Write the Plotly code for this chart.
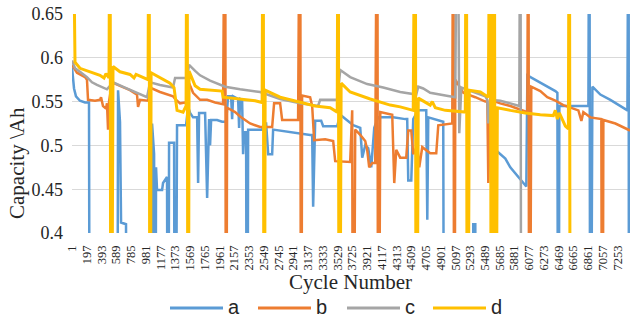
import plotly.graph_objects as go

# ---- data (cycle number, capacity in Ah) ----
cyc_a = [1, 28, 54, 107, 174, 227, 240, 600, 613, 639,
         653, 719, 733, 1052, 1065, 1078, 1092, 1105, 1118, 1131,
         1198, 1211, 1264, 1278, 1291, 1358, 1371, 1397, 1517, 1544,
         1570, 1610, 1664, 1677, 1690, 1770, 1797, 1823, 1836, 1850,
         1929, 1996, 2049, 2076, 2116, 2129, 2142, 2209, 2222, 2235,
         2262, 2275, 2289, 2315, 2328, 2342, 2528, 2555, 2581, 2608,
         2661, 2674, 2900, 3166, 3193, 3206, 3233, 3313, 3339, 3526,
         3566, 3738, 3832, 3858, 3898, 3938, 3978, 4018, 4071, 4270,
         4430, 4456, 4470, 4510, 4536, 4603, 4709, 4723, 4736, 4935,
         4949, 5321, 5334, 5361, 5374, 5614, 5627, 5760, 5826, 5893,
         5960, 6039, 6053, 6159, 6292, 6425, 6452, 6465, 6478, 6864,
         6877, 6890, 6917, 7023, 7156, 7289, 7383, 7398, 7404]
val_a = [0.589, 0.565, 0.556, 0.551, 0.549, 0.549, 0.0, 0.0, 0.563, 0.527,
         0.412, 0.41, 0.0, 0.0, 0.525, 0.51, 0.49, 0.0, 0.475, 0.449,
         0.449, 0.457, 0.464, 0.0, 0.503, 0.503, 0.0, 0.523, 0.523, 0.544,
         0.537, 0.532, 0.532, 0.457, 0.537, 0.537, 0.44, 0.53, 0.50, 0.529,
         0.529, 0.527, 0.527, 0.556, 0.556, 0.53, 0.556, 0.553, 0.52, 0.553,
         0.552, 0.49, 0.515, 0.515, 0.0, 0.518, 0.518, 0.525, 0.525, 0.49,
         0.49, 0.518, 0.515, 0.512, 0.512, 0.43, 0.528, 0.528, 0.522, 0.522,
         0.535, 0.523, 0.52, 0.486, 0.50, 0.497, 0.475, 0.52, 0.532, 0.532,
         0.53, 0.53, 0.46, 0.46, 0.53, 0.54, 0.54, 0.415, 0.532, 0.527,
         0.0, 0.0, 0.41, 0.41, 0.0, 0.0, 0.495, 0.485, 0.475, 0.468,
         0.462, 0.453, 0.58, 0.575, 0.568, 0.562, 0.56, 0.0, 0.545, 0.545,
         0.9, 0.0, 0.567, 0.558, 0.552, 0.545, 0.54, 0.9, 0.0]

cyc_b = [1, 67, 174, 200, 214, 307, 373, 387, 413, 453,
         466, 480, 493, 533, 639, 772, 865, 879, 905, 1012,
         1038, 1171, 1344, 1371, 1437, 1504, 1530, 1557, 1610, 1664,
         1703, 1797, 1903, 2009, 2036, 2049, 2062, 2169, 2235, 2368,
         2501, 2661, 2687, 2767, 2794, 3006, 3033, 3046, 3059, 3166,
         3193, 3219, 3366, 3472, 3499, 3698, 3725, 3738, 3765, 3832,
         3898, 3924, 3951, 3991, 4031, 4058, 4071, 4098, 4230, 4257,
         4284, 4310, 4363, 4443, 4470, 4510, 4536, 4589, 4616, 4656,
         4762, 4842, 4869, 5055, 5069, 5082, 5095, 5202, 5361, 5494,
         5521, 5534, 5561, 5693, 5827, 5960, 6053, 6066, 6079, 6105,
         6225, 6318, 6425, 6531, 6624, 6731, 6771, 6797, 6890, 7036,
         7050, 7063, 7223, 7356, 7417]
val_b = [0.592, 0.583, 0.578, 0.575, 0.552, 0.551, 0.552, 0.555, 0.545, 0.542,
         0.548, 0.518, 0.55, 0.572, 0.568, 0.563, 0.558, 0.544, 0.552, 0.551,
         0.566, 0.561, 0.556, 0.553, 0.548, 0.549, 0.548, 0.571, 0.56, 0.555,
         0.552, 0.552, 0.549, 0.547, 0.9, 0.0, 0.543, 0.538, 0.533, 0.525,
         0.521, 0.521, 0.548, 0.548, 0.529, 0.529, 0.9, 0.0, 0.557, 0.555,
         0.545, 0.506, 0.507, 0.505, 0.482, 0.481, 0.54, 0.0, 0.518, 0.512,
         0.505, 0.495, 0.475, 0.48, 0.48, 0.9, 0.0, 0.538, 0.535, 0.535,
         0.457, 0.495, 0.486, 0.486, 0.517, 0.517, 0.49, 0.50, 0.475, 0.498,
         0.491, 0.491, 0.523, 0.525, 0.9, 0.0, 0.575, 0.56, 0.555, 0.55,
         0.55, 0.457, 0.552, 0.548, 0.545, 0.541, 0.538, 0.9, 0.0, 0.567,
         0.562, 0.555, 0.551, 0.546, 0.543, 0.54, 0.528, 0.538, 0.532, 0.530,
         0.0, 0.529, 0.525, 0.52, 0.517]

cyc_c = [1, 41, 107, 200, 267, 333, 466, 546, 705, 839,
         998, 1038, 1171, 1344, 1371, 1530, 1557, 1637, 1703, 1836,
         2036, 2235, 2501, 2767, 3033, 3272, 3299, 3526, 3566, 3698,
         3924, 4137, 4363, 4576, 4603, 4669, 4762, 4962, 5095, 5122,
         5148, 5175, 5295, 5494, 5521, 5534, 5561, 5693, 5827, 5946,
         5960, 5973]
val_c = [0.597, 0.588, 0.584, 0.578, 0.572, 0.569, 0.564, 0.572, 0.566, 0.561,
         0.555, 0.572, 0.569, 0.566, 0.577, 0.577, 0.592, 0.585, 0.580, 0.574,
         0.567, 0.564, 0.561, 0.553, 0.548, 0.545, 0.552, 0.552, 0.586, 0.578,
         0.570, 0.566, 0.561, 0.558, 0.567, 0.565, 0.560, 0.557, 0.555, 0.9,
         0.514, 0.566, 0.562, 0.556, 0.552, 0.525, 0.552, 0.551, 0.548, 0.545,
         0.9, 0.0]

cyc_d = [1, 41, 107, 240, 373, 426, 453, 493, 506, 519,
         546, 639, 772, 825, 852, 905, 1012, 1025, 1038, 1052,
         1171, 1304, 1357, 1397, 1477, 1504, 1517, 1530, 1544, 1557,
         1637, 1703, 1836, 1996, 2009, 2235, 2435, 2528, 2541, 2555,
         2568, 2767, 3033, 3233, 3432, 3526, 3539, 3552, 3578, 3698,
         3964, 4230, 4363, 4536, 4563, 4576, 4603, 4696, 4762, 4789,
         4829, 4962, 5162, 5228, 5242, 5255, 5281, 5428, 5534, 5561,
         5574, 5588, 5601, 5614, 5627, 5654, 5827, 6026, 6225, 6398,
         6425, 6451, 6478, 6518, 6558, 6598, 6611, 6624]
val_d = [0.9, 0.595, 0.588, 0.584, 0.580, 0.577, 0.582, 0.577, 0.9, 0.0,
         0.590, 0.584, 0.581, 0.577, 0.581, 0.579, 0.575, 0.9, 0.0, 0.583,
         0.577, 0.571, 0.566, 0.540, 0.538, 0.542, 0.545, 0.9, 0.0, 0.585,
         0.568, 0.564, 0.563, 0.562, 0.555, 0.553, 0.551, 0.549, 0.9, 0.0,
         0.563, 0.555, 0.549, 0.545, 0.543, 0.538, 0.9, 0.0, 0.571, 0.561,
         0.553, 0.546, 0.544, 0.540, 0.9, 0.0, 0.554, 0.549, 0.546, 0.550,
         0.543, 0.540, 0.538, 0.538, 0.9, 0.0, 0.563, 0.561, 0.555, 0.9,
         0.0, 0.9, 0.0, 0.9, 0.0, 0.543, 0.540, 0.537, 0.535, 0.534,
         0.540, 0.530, 0.537, 0.529, 0.522, 0.519, 0.9, 0.0]

tick_labels = ["1", "197", "393", "589", "785", "981", "1177", "1373", "1569", "1765",
               "1961", "2157", "2353", "2549", "2745", "2941", "3137", "3333", "3529",
               "3725", "3921", "4117", "4313", "4509", "4705", "4901", "5097", "5293",
               "5489", "5685", "5881", "6077", "6273", "6469", "6665", "6861", "7057",
               "7253"]
tick_vals = [int(t) for t in tick_labels]

series_names = ["a", "b", "c", "d"]
colors = ["#5B9BD5", "#ED7D31", "#A5A5A5", "#FFC000"]

fig = go.Figure()
for name, xs, ys, col, w in zip(series_names, [cyc_a, cyc_b, cyc_c, cyc_d],
                                [val_a, val_b, val_c, val_d], colors,
                                [2.5, 2.5, 2.5, 3]):
    fig.add_trace(go.Scatter(x=xs, y=ys, mode="lines", name=name,
                             line=dict(color=col, width=w), showlegend=False))

serif = "Liberation Serif, Times New Roman, serif"
L, R, T, B = 72, 4, 14, 91
W, H = 634, 324
pw, ph = W - L - R, H - T - B

def px_x(p):
    return (p - L) / pw

def px_y(p):
    return (H - B - p) / ph

fig.update_layout(
    width=W, height=H,
    margin=dict(l=L, r=R, t=T, b=B, pad=0),
    paper_bgcolor="white", plot_bgcolor="white",
    xaxis=dict(range=[1, 7417], tickmode="array", tickvals=tick_vals,
               ticktext=tick_labels, tickangle=-90, showgrid=False,
               zeroline=False, showline=False, ticks="",
               ticklabelstandoff=9,
               tickfont=dict(family=serif, size=12.5, color="#262626")),
    yaxis=dict(range=[0.4, 0.65], dtick=0.05, tick0=0.4, showgrid=True,
               gridcolor="#D9D9D9", gridwidth=1, zeroline=False,
               showline=False, ticks="", ticklabelstandoff=8,
               tickfont=dict(family=serif, size=18, color="#262626")),
)

# axis titles
fig.add_annotation(text="Cycle Number", xref="paper", yref="paper",
                   x=px_x(350), y=px_y(282), xanchor="center", yanchor="middle",
                   showarrow=False,
                   font=dict(family=serif, size=21, color="#262626"))
fig.add_annotation(text="Capacity \\Ah", xref="paper", yref="paper",
                   x=px_x(17), y=px_y(163), xanchor="center", yanchor="middle",
                   showarrow=False, textangle=-90,
                   font=dict(family=serif, size=21, color="#262626"))

# legend drawn by hand to match line sample lengths
leg_y = 308
leg_x0 = [170, 258, 347, 433]
for name, col, x0 in zip(series_names, colors, leg_x0):
    fig.add_shape(type="line", xref="paper", yref="paper",
                  x0=px_x(x0), x1=px_x(x0 + 53), y0=px_y(leg_y), y1=px_y(leg_y),
                  line=dict(color=col, width=3))
    fig.add_annotation(text=name, xref="paper", yref="paper",
                       x=px_x(x0 + 56), y=px_y(leg_y - 1), xanchor="left",
                       yanchor="middle", showarrow=False,
                       font=dict(family="Liberation Sans, Arial, sans-serif",
                                 size=20, color="#262626"))

fig.write_html("out.html")
